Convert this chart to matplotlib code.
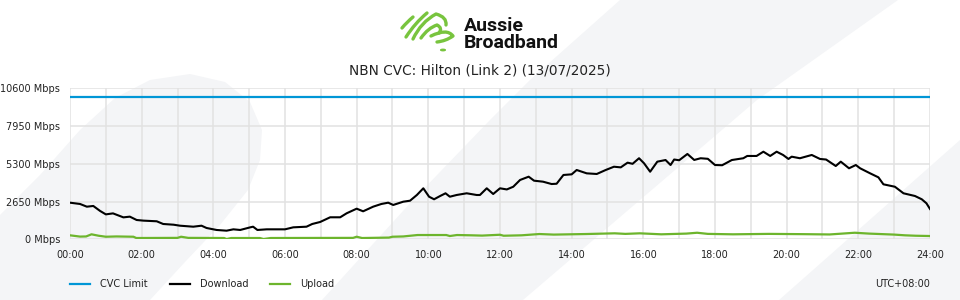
import matplotlib
matplotlib.use("Agg")
import matplotlib.pyplot as plt
from matplotlib.patches import Polygon, PathPatch, Circle
from matplotlib.path import Path
from matplotlib.lines import Line2D

# ---------------- data ----------------
title = "NBN CVC: Hilton (Link 2) (13/07/2025)"
cvc_limit = 10000

download_hours = [0.0, 0.28, 0.47, 0.65, 0.84, 1.0, 1.2, 1.49, 1.67, 1.86, 2.05, 2.42, 2.6, 2.89,
                  3.07, 3.44, 3.67, 3.81, 4.09, 4.37, 4.56, 4.75, 5.03, 5.11, 5.23, 5.49, 6.0, 6.23,
                  6.6, 6.76, 6.98, 7.26, 7.54, 7.72, 8.0, 8.18, 8.46, 8.69, 8.88, 9.02, 9.3, 9.49,
                  9.68, 9.86, 10.02, 10.16, 10.33, 10.48, 10.6, 10.79, 11.07, 11.35, 11.44, 11.63,
                  11.81, 12.0, 12.19, 12.37, 12.56, 12.8, 12.95, 13.2, 13.44, 13.58, 13.77, 14.0,
                  14.14, 14.42, 14.7, 14.95, 15.18, 15.37, 15.56, 15.7, 15.88, 16.02, 16.19, 16.39,
                  16.62, 16.76, 16.86, 17.0, 17.23, 17.42, 17.6, 17.8, 18.0, 18.2, 18.47, 18.79,
                  18.9, 19.16, 19.35, 19.54, 19.72, 19.9, 20.05, 20.14, 20.37, 20.7, 20.93, 21.1,
                  21.37, 21.51, 21.74, 21.93, 22.05, 22.33, 22.56, 22.7, 23.02, 23.26, 23.58, 23.77,
                  23.9, 24.0]
download_mbps = [2570, 2480, 2290, 2340, 1990, 1750, 1820, 1540, 1590, 1355, 1310, 1265, 1075, 1025,
                 955, 885, 955, 795, 655, 605, 700, 655, 840, 885, 655, 700, 700, 840,
                 885, 1075, 1215, 1545, 1545, 1825, 2150, 1965, 2290, 2480, 2570, 2410, 2640, 2710,
                 3110, 3580, 2990, 2810, 3040, 3230, 2990, 3110, 3230, 3110, 3110, 3580,
                 3180, 3580, 3500, 3690, 4165, 4395, 4115, 4045, 3880, 3900, 4515, 4560,
                 4865, 4630, 4585, 4865, 5095, 5050, 5380, 5300, 5690, 5335, 4745, 5450,
                 5565, 5215, 5600, 5550, 5990, 5570, 5690, 5650, 5215, 5200, 5565, 5690,
                 5850, 5850, 6150, 5850, 6150, 5920, 5640, 5800, 5690, 5920, 5640, 5600,
                 5145, 5450, 4985, 5215, 4985, 4630, 4350, 3860, 3690, 3230, 3040, 2810,
                 2530, 2130]

upload_hours = [0.0, 0.28, 0.45, 0.6, 0.8, 1.0, 1.3, 1.77, 1.85, 3.0, 3.1, 3.3, 4.3, 4.37, 4.5,
                5.3, 5.4, 5.6, 7.9, 8.0, 8.15, 8.9, 9.0, 9.3, 9.7, 10.5, 10.6, 10.8, 11.2, 11.5,
                12.0, 12.1, 12.6, 13.1, 13.5, 14.4, 15.2, 15.5, 15.9, 16.5, 17.2, 17.5, 17.8,
                18.5, 19.5, 20.5, 21.2, 21.9, 22.3, 23.0, 23.3, 23.6, 24.0]
upload_mbps = [280, 190, 200, 350, 250, 180, 200, 180, 90, 100, 180, 100, 90, 20, 90,
               90, 20, 90, 100, 180, 90, 120, 180, 200, 300, 300, 230, 300, 280, 260,
               320, 250, 280, 370, 330, 370, 420, 380, 420, 350, 400, 460, 380,
               350, 380, 360, 340, 460, 400, 330, 280, 250, 230]

y_ticks = [0, 2650, 5300, 7950, 10600]
x_ticks = list(range(0, 25, 2))
series_names = ["CVC Limit", "Download", "Upload"]
series_colors = ["#0096d6", "#000000", "#6db52d"]
timezone_label = "UTC+08:00"
logo_text = "Aussie\nBroadband"

# ---------------- figure ----------------
W, H = 960, 300
plt.rcParams["font.family"] = ["DejaVu Sans"]
fig = plt.figure(figsize=(W / 100, H / 100), dpi=100, facecolor="white")


def px(x, y):
    return (x / W, 1 - y / H)


bg = "#f4f5f7"
shapes = [
    [(0, 215), (40, 175), (80, 130), (115, 98), (150, 80), (190, 74), (225, 82), (250, 102),
     (262, 130), (260, 160), (248, 190), (220, 225), (185, 262), (150, 300), (0, 300)],
    [(322, 300), (413, 200), (490, 120), (530, 80), (620, 0), (898, 0), (757, 100), (640, 200),
     (523, 300)],
    [(779, 300), (813, 270), (960, 140), (960, 300)],
]
for s in shapes:
    fig.add_artist(Polygon([px(*p) for p in s], closed=True, facecolor=bg, edgecolor="none",
                           transform=fig.transFigure, zorder=0))

ax = fig.add_axes([70 / W, 60.7 / H, 860 / W, 151 / H])
ax.patch.set_alpha(0)
for sp in ax.spines.values():
    sp.set_visible(False)

ax.set_xlim(0, 24)
ax.set_ylim(0, 10600)
ax.set_xticks(x_ticks)
ax.set_xticklabels([f"{h:02d}:00" for h in x_ticks])
ax.set_xticks(range(0, 25), minor=True)
ax.set_yticks(y_ticks)
ax.set_yticklabels([f"{v} Mbps" for v in y_ticks])
ax.tick_params(axis="both", which="both", length=0, labelsize=7, colors="#222222")
ax.tick_params(axis="x", pad=8)
ax.tick_params(axis="y", pad=7)
ax.grid(True, which="both", axis="x", color="#e2e2e2", lw=1.1)
ax.grid(True, which="major", axis="y", color="#e2e2e2", lw=1.1)
ax.set_axisbelow(True)

ax.axhline(cvc_limit, color=series_colors[0], lw=1.6, zorder=3)
ax.plot(download_hours, download_mbps, color=series_colors[1], lw=1.5, zorder=4)
ax.plot(upload_hours, upload_mbps, color=series_colors[2], lw=1.6, zorder=4)

# title
fig.text(480 / W, 1 - 71 / H, title, ha="center", va="center", fontsize=9.8, color="#222222")

# legend (manual)
leg_x = [70, 170, 270]
for x0, name, col in zip(leg_x, series_names, series_colors):
    fig.add_artist(Line2D([x0 / W, (x0 + 20) / W], [1 - 284 / H] * 2, color=col, lw=1.6,
                          transform=fig.transFigure))
    fig.text((x0 + 30) / W, 1 - 284 / H, name, ha="left", va="center", fontsize=7,
             color="#222222")
fig.text(930 / W, 1 - 284 / H, timezone_label, ha="right", va="center", fontsize=7,
         color="#222222")

# logo text
fig.text(464 / W, 1 - 48 / H, logo_text, ha="left", va="baseline", fontsize=14,
         fontweight="bold", family=["Roboto", "DejaVu Sans"], color="#111111",
         linespacing=0.9)

# logo mark (decorative swirl)
lg = "#78c43e"
strokes = [
    [(402, 28), (407, 22), (413, 17)],
    [(406, 37), (415, 23), (427, 13)],
    [(413, 39), (421, 22), (436, 14), (447, 17), (446, 25)],
    [(421, 38), (428, 28), (437, 25), (443, 28), (439, 33)],
    [(431, 36), (447, 28), (453, 36), (446, 41), (437, 42)],
]
for st in strokes:
    pts = [px(*p) for p in st]
    codes = [Path.MOVETO] + [Path.CURVE3] * (len(pts) - 1)
    fig.add_artist(PathPatch(Path(pts, codes), facecolor="none", edgecolor=lg, lw=2.4,
                             capstyle="round", joinstyle="round", transform=fig.transFigure))
fig.add_artist(Circle(px(443, 50), 2.3 / W, color=lg, transform=fig.transFigure))

fig.savefig("out.png", dpi=100, facecolor="white")
